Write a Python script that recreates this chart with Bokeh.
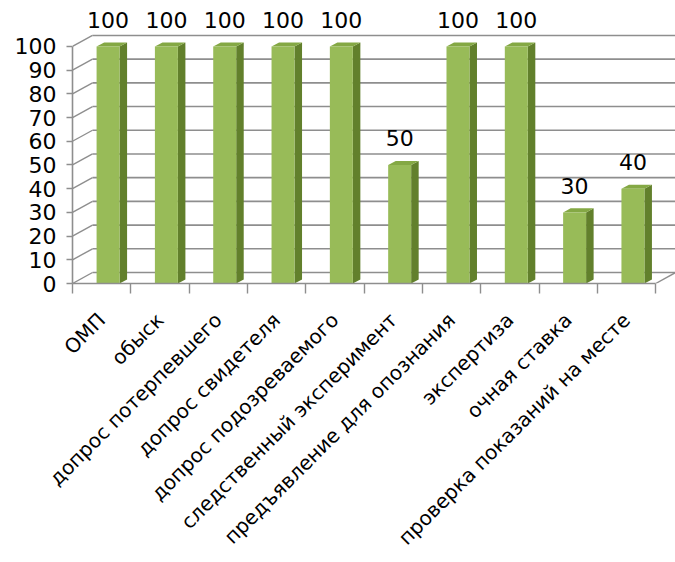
import math
from bokeh.plotting import figure
from bokeh.models import Range1d, FixedTicker
from bokeh.embed import file_html
from bokeh.resources import INLINE
from bokeh.core.properties import value

# ---- data ----
categories = [
    "ОМП",
    "обыск",
    "допрос потерпевшего",
    "допрос свидетеля",
    "допрос подозреваемого",
    "следственный эксперимент",
    "предъявление для опознания",
    "экспертиза",
    "очная ставка",
    "проверка показаний на месте",
]
values = [100, 100, 100, 100, 100, 50, 100, 100, 30, 40]
y_ticks = [0, 10, 20, 30, 40, 50, 60, 70, 80, 90, 100]

# ---- style ----
FONT = "DejaVu Sans"
GRID = "#8e8e8e"
FRONT = "#98bb58"
SIDE = "#62802c"
TOP = "#84a844"

# pseudo-3D depth offsets (in data units)
DX, DY = 0.343, 4.64      # back wall offset
BX, BW = 0.11, 0.394      # bar center shift / bar width
SX, SY = 0.129, 1.69      # bar depth
LY = 11.3                 # data label offset

n = len(categories)
idx = list(range(n))
x_left_edge = -0.5
x_right_edge = n - 0.5

p = figure(width=675, height=562, output_backend="svg", toolbar_location=None,
           x_range=Range1d(-0.5, 9.84), y_range=Range1d(0, 116),
           min_border_left=72, min_border_right=0, min_border_top=8,
           min_border_bottom=279)
p.outline_line_color = None
p.xgrid.visible = False
p.ygrid.visible = False
p.background_fill_color = "white"

# back wall gridlines
p.segment(x0=[x_left_edge + DX] * len(y_ticks), y0=[t + DY for t in y_ticks],
          x1=[x_right_edge + DX] * len(y_ticks), y1=[t + DY for t in y_ticks],
          line_color=GRID, line_width=1.6)
# side-wall diagonals from front axis to back wall
p.segment(x0=[x_left_edge] * len(y_ticks), y0=y_ticks,
          x1=[x_left_edge + DX] * len(y_ticks), y1=[t + DY for t in y_ticks],
          line_color=GRID, line_width=1.4)
# right floor edge
p.segment(x0=[x_right_edge], y0=[0], x1=[x_right_edge + DX], y1=[DY],
          line_color=GRID, line_width=1.4)

# bars
lefts = [i + BX - BW / 2 for i in idx]
rights = [i + BX + BW / 2 for i in idx]
p.patches(xs=[[r, r + SX, r + SX, r] for r in rights],
          ys=[[0, SY, v + SY, v] for v in values],
          fill_color=SIDE, line_color=None)
p.patches(xs=[[l, r, r + SX, l + SX] for l, r in zip(lefts, rights)],
          ys=[[v, v, v + SY, v + SY] for v in values],
          fill_color=TOP, line_color=None)
p.quad(left=lefts, right=rights, bottom=0, top=values,
       fill_color=FRONT, line_color=None)

# data labels
p.text(x=[i + BX for i in idx], y=[v + LY for v in values],
       text=[str(v) for v in values], text_align="center",
       text_baseline="middle", text_font=value(FONT),
       text_font_size="22px", text_color="black")

# y axis (front)
ya = p.yaxis[0]
ya.ticker = FixedTicker(ticks=y_ticks)
ya.bounds = (0, 100)
ya.major_tick_out = 6
ya.major_tick_in = 0
ya.minor_tick_out = 0
ya.minor_tick_in = 0
ya.major_label_standoff = 10
ya.major_label_text_font = FONT
ya.major_label_text_font_size = "22px"
ya.major_label_text_color = "black"
ya.axis_line_color = GRID
ya.axis_line_width = 1.6
ya.major_tick_line_color = GRID
ya.major_tick_line_width = 1.4

# x axis (front)
xa = p.xaxis[0]
xa.ticker = FixedTicker(ticks=idx, minor_ticks=[i - 0.5 for i in range(n + 1)])
xa.major_label_overrides = {i: c for i, c in enumerate(categories)}
xa.major_label_orientation = math.pi / 4
xa.bounds = (x_left_edge, x_right_edge)
xa.major_tick_out = 0
xa.major_tick_in = 0
xa.minor_tick_out = 10
xa.minor_tick_in = 0
xa.minor_tick_line_color = GRID
xa.minor_tick_line_width = 1.4
xa.major_label_standoff = 23
xa.major_label_text_font = FONT
xa.major_label_text_font_size = "20px"
xa.major_label_text_color = "black"
xa.axis_line_color = GRID
xa.axis_line_width = 1.6

open("out.html", "w").write(file_html(p, INLINE))
